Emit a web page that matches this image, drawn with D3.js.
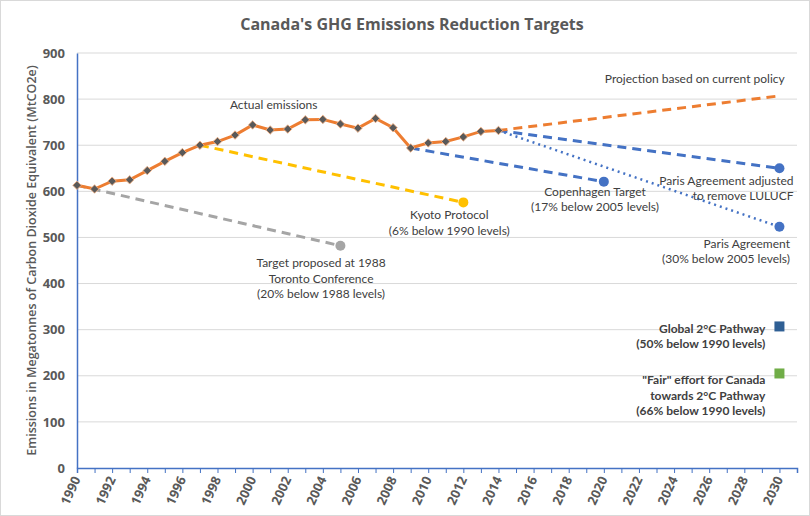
<!DOCTYPE html>
<html>
<head>
<meta charset="utf-8">
<script src="https://cdn.jsdelivr.net/npm/d3@7"></script>
<style>
    body { margin: 0; background: #fff; }
    svg text { font-family: 'Open Sans', 'Liberation Sans', sans-serif; fill: #404040; }
    svg text.note { font-family: Lato, 'Open Sans', sans-serif; }
</style>
</head>
<body>
<svg id="chart"></svg>
<script>
// actual emissions (MtCO2e)
const actualYears = d3.range(1990, 2015);
const actualValues = [613, 605, 622, 625, 645, 665, 684, 700, 708, 722, 744, 733, 735, 755, 756, 746, 737, 758, 738, 694, 705, 708, 718, 730, 732];

// target / projection lines: [year, value]
const torontoLine = [[1990, 613], [2005, 482]];
const kyotoLine = [[1997, 700], [2012, 576]];
const copenhagenLine = [[2009, 694], [2020, 621]];
const parisAdjLine = [[2014, 732], [2030, 650]];
const parisLine = [[2014, 732], [2030, 523]];
const projectionLine = [[2014, 732], [2030, 807]];

const pathwayPoints = [
    { year: 2030, value: 307, color: '#2f5f94' },
    { year: 2030, value: 205, color: '#70ad47' }
];

const yTicks = [0, 100, 200, 300, 400, 500, 600, 700, 800, 900];
const xLabelYears = d3.range(1990, 2031, 2);

const config = {
    width: 810,
    height: 516,
    margin: { top: 53, right: 13, bottom: 48, left: 77 }
};

const innerW = config.width - config.margin.left - config.margin.right;
const innerH = config.height - config.margin.top - config.margin.bottom;

const svg = d3.select('#chart')
    .attr('width', config.width)
    .attr('height', config.height);

svg.append('rect')
    .attr('x', 0.5).attr('y', 0.5)
    .attr('width', config.width - 1).attr('height', config.height - 1)
    .attr('fill', '#fff')
    .attr('stroke', '#d9d9d9');

const chart = svg.append('g')
    .attr('transform', `translate(${config.margin.left},${config.margin.top})`);

const x = d3.scaleLinear().domain([1990, 2031]).range([0, innerW]);
const y = d3.scaleLinear().domain([0, 900]).range([innerH, 0]);

// gridlines
chart.append('g')
    .selectAll('line')
    .data(yTicks.filter(d => d > 0))
    .join('line')
    .attr('x1', 0).attr('x2', innerW)
    .attr('y1', d => y(d)).attr('y2', d => y(d))
    .attr('stroke', '#d9d9d9')
    .attr('stroke-width', 1);

// y axis
const yAxisG = chart.append('g')
    .call(d3.axisLeft(y).tickValues(yTicks).tickSize(0).tickPadding(12));
yAxisG.select('.domain').attr('stroke', '#4472c4').attr('stroke-width', 1.5);
yAxisG.selectAll('text')
    .style('font-size', '13px')
    .style('font-weight', 'bold')
    .style('fill', '#595959');

// x axis
const xAxisG = chart.append('g')
    .attr('transform', `translate(0,${innerH})`)
    .call(d3.axisBottom(x).tickValues(d3.range(1990, 2032)).tickSize(5).tickFormat(''));
xAxisG.select('.domain').attr('stroke', '#4472c4').attr('stroke-width', 1.5);
xAxisG.selectAll('.tick line').attr('stroke', '#4472c4');

chart.append('g')
    .selectAll('text')
    .data(xLabelYears)
    .join('text')
    .attr('transform', d => `translate(${x(d) + 4},${innerH + 11}) rotate(-65)`)
    .attr('text-anchor', 'end')
    .style('font-size', '13px')
    .style('font-weight', 'bold')
    .style('fill', '#595959')
    .text(d => d);

// y axis title
svg.append('text')
    .attr('transform', `translate(36,${config.margin.top + innerH / 2}) rotate(-90)`)
    .attr('text-anchor', 'middle')
    .style('font-size', '12.5px')
    .style('font-weight', '600')
    .style('fill', '#595959')
    .text('Emissions in Megatonnes of Carbon Dioxide Equivalent (MtCO2e)');

// title
svg.append('text')
    .attr('x', 412).attr('y', 30)
    .attr('text-anchor', 'middle')
    .style('font-size', '16px')
    .style('font-weight', 'bold')
    .style('fill', '#595959')
    .text("Canada's GHG Emissions Reduction Targets");

const line = d3.line().x(d => x(d[0])).y(d => y(d[1]));

function drawTarget(data, color, dash, width, endDot) {
    chart.append('path')
        .datum(data)
        .attr('d', line)
        .attr('fill', 'none')
        .attr('stroke', color)
        .attr('stroke-width', width)
        .attr('stroke-dasharray', dash);
    if (endDot) {
        const last = data[data.length - 1];
        chart.append('circle')
            .attr('cx', x(last[0])).attr('cy', y(last[1]))
            .attr('r', 5)
            .attr('fill', color);
    }
}

drawTarget(torontoLine, '#a5a5a5', '9,6', 3, true);
drawTarget(kyotoLine, '#ffc000', '9,6', 3, true);
drawTarget(copenhagenLine, '#4472c4', '9,6', 3, true);
drawTarget(parisAdjLine, '#4472c4', '9,6', 3, true);
drawTarget(parisLine, '#4472c4', '2,4', 2.5, true);
drawTarget(projectionLine, '#ed7d31', '9,6', 3, false);

// actual emissions
const actualData = actualYears.map((yr, i) => [yr, actualValues[i]]);
chart.append('path')
    .datum(actualData)
    .attr('d', line)
    .attr('fill', 'none')
    .attr('stroke', '#ed7d31')
    .attr('stroke-width', 3);

chart.append('g')
    .selectAll('rect')
    .data(actualData)
    .join('rect')
    .attr('x', -3).attr('y', -3)
    .attr('width', 6).attr('height', 6)
    .attr('transform', d => `translate(${x(d[0])},${y(d[1])}) rotate(45)`)
    .attr('fill', '#595959')
    .attr('stroke', '#f4b183')
    .attr('stroke-width', 0.8);

// pathway squares
chart.append('g')
    .selectAll('rect')
    .data(pathwayPoints)
    .join('rect')
    .attr('x', d => x(d.year) - 5)
    .attr('y', d => y(d.value) - 5)
    .attr('width', 10).attr('height', 10)
    .attr('fill', d => d.color);

// annotations
function label(lines, px, py, anchor, bold) {
    const t = chart.append('text')
        .attr('class', 'note')
        .attr('text-anchor', anchor)
        .style('font-size', '12px')
        .style('font-weight', bold ? 'bold' : 'normal');
    lines.forEach((s, i) => {
        t.append('tspan').attr('x', px).attr('y', py + i * 15.5).text(s);
    });
}

label(['Actual emissions'], x(2001.2), y(778), 'middle', false);
label(['Projection based on current policy'], x(2030.3), y(836), 'end', false);
label(['Kyoto Protocol', '(6% below 1990 levels)'], x(2011.2), y(540), 'middle', false);
label(['Target proposed at 1988', 'Toronto Conference', '(20% below 1988 levels)'], x(2003.9), y(435), 'middle', false);
label(['Copenhagen Target', '(17% below 2005 levels)'], x(2019.5), y(590), 'middle', false);
label(['Paris Agreement adjusted', 'to remove LULUCF'], x(2030.8), y(614), 'end', false);
label(['Paris Agreement', '(30% below 2005 levels)'], x(2030.6), y(478), 'end', false);
label(['Global 2°C Pathway', '(50% below 1990 levels)'], x(2029.2), y(293), 'end', true);
label(['"Fair" effort for Canada', 'towards 2°C Pathway', '(66% below 1990 levels)'], x(2029.2), y(182), 'end', true);
</script>
</body>
</html>
